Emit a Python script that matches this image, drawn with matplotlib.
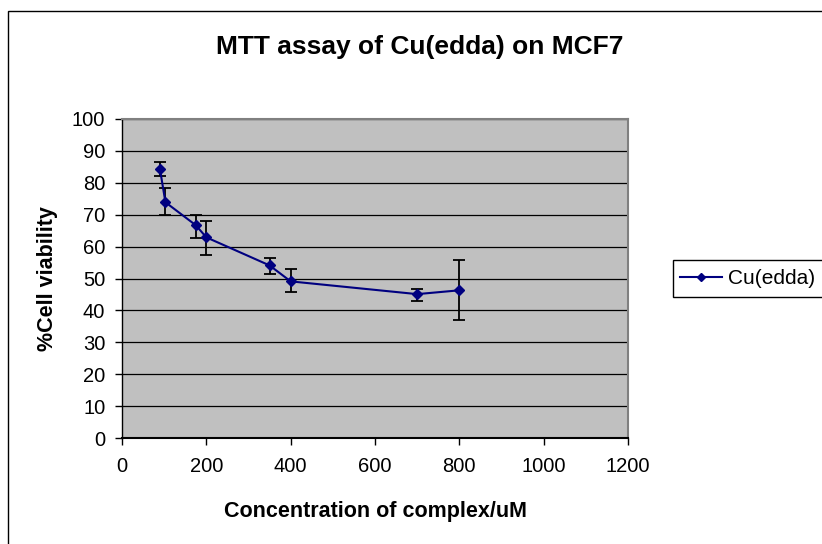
import matplotlib
matplotlib.use("Agg")
import matplotlib.pyplot as plt
from matplotlib.patches import Rectangle

plt.rcParams['font.family'] = ['Liberation Sans', 'DejaVu Sans']

conc = [90, 103, 175, 200, 350, 400, 700, 800]
viability = [84.3, 73.9, 66.7, 62.9, 54.1, 49.1, 45.1, 46.3]
err_up = [2.2, 4.4, 3.2, 5.0, 2.2, 3.9, 1.6, 9.4]
err_down = [2.1, 3.9, 3.9, 5.4, 2.8, 3.2, 2.1, 9.4]
series_name = "Cu(edda)"
title = "MTT assay of Cu(edda) on MCF7"
xlabel = "Concentration of complex/uM"
ylabel = "%Cell viability"

W, H = 822, 544
fig = plt.figure(figsize=(W/100, H/100), dpi=100)
fig.patches.append(Rectangle((8/W, -0.1), 1.2, 1.1 - 11/H, transform=fig.transFigure,
                             fill=False, edgecolor='black', linewidth=1.0))

L, R, T, B = 122, 628, 119, 438
ax = fig.add_axes([L/W, 1 - B/H, (R-L)/W, (B-T)/H])
ax.set_facecolor('#C0C0C0')
ax.set_xlim(0, 1200)
ax.set_ylim(0, 100)
ax.set_xticks(range(0, 1201, 200))
ax.set_yticks(range(0, 101, 10))
ax.yaxis.grid(True, color='black', linewidth=0.9)
ax.set_axisbelow(True)
for s in ['top', 'right']:
    ax.spines[s].set_color('#808080')
    ax.spines[s].set_linewidth(1.5)
ax.spines['left'].set_color('black')
ax.spines['bottom'].set_color('black')
ax.spines['left'].set_linewidth(1.0)
ax.spines['bottom'].set_linewidth(1.5)
ax.tick_params(axis='both', labelsize=14.5, length=5, width=1, direction='out')
ax.tick_params(axis='x', pad=9)
ax.tick_params(axis='y', pad=7)

ax.errorbar(conc, viability, yerr=[err_down, err_up], fmt='none', ecolor='black',
            elinewidth=1.3, capsize=4.5, capthick=1.3, zorder=3)
ax.plot(conc, viability, color='#000080', marker='D', markersize=5.5, linewidth=1.5,
        label=series_name, zorder=4)

fig.text(420/W, 1 - 47/H, title, ha='center', va='center',
         fontsize=19, fontweight='bold')
fig.text((L+R)/2/W, 1 - 511/H, xlabel, ha='center', va='center',
         fontsize=15.5, fontweight='bold')
fig.text(47/W, 1 - (T+B)/2/H, ylabel, ha='center', va='center', rotation=90,
         fontsize=15.5, fontweight='bold')

# legend frame (extends past the right edge, as in the cropped reference)
fig.patches.append(Rectangle((673/W, 1 - 297/H), 200/W, 37/H, transform=fig.transFigure,
                             facecolor='white', edgecolor='black', linewidth=1.0, zorder=1))
leg = fig.legend(loc='center left', bbox_to_anchor=(673/W, 1 - 278.5/H), fontsize=15,
                 frameon=False, handlelength=2.0,
                 handletextpad=0.3, borderpad=0.35, borderaxespad=0,
                 markerscale=0.75)
leg.set_zorder(5)

fig.savefig('out.png', dpi=100)
